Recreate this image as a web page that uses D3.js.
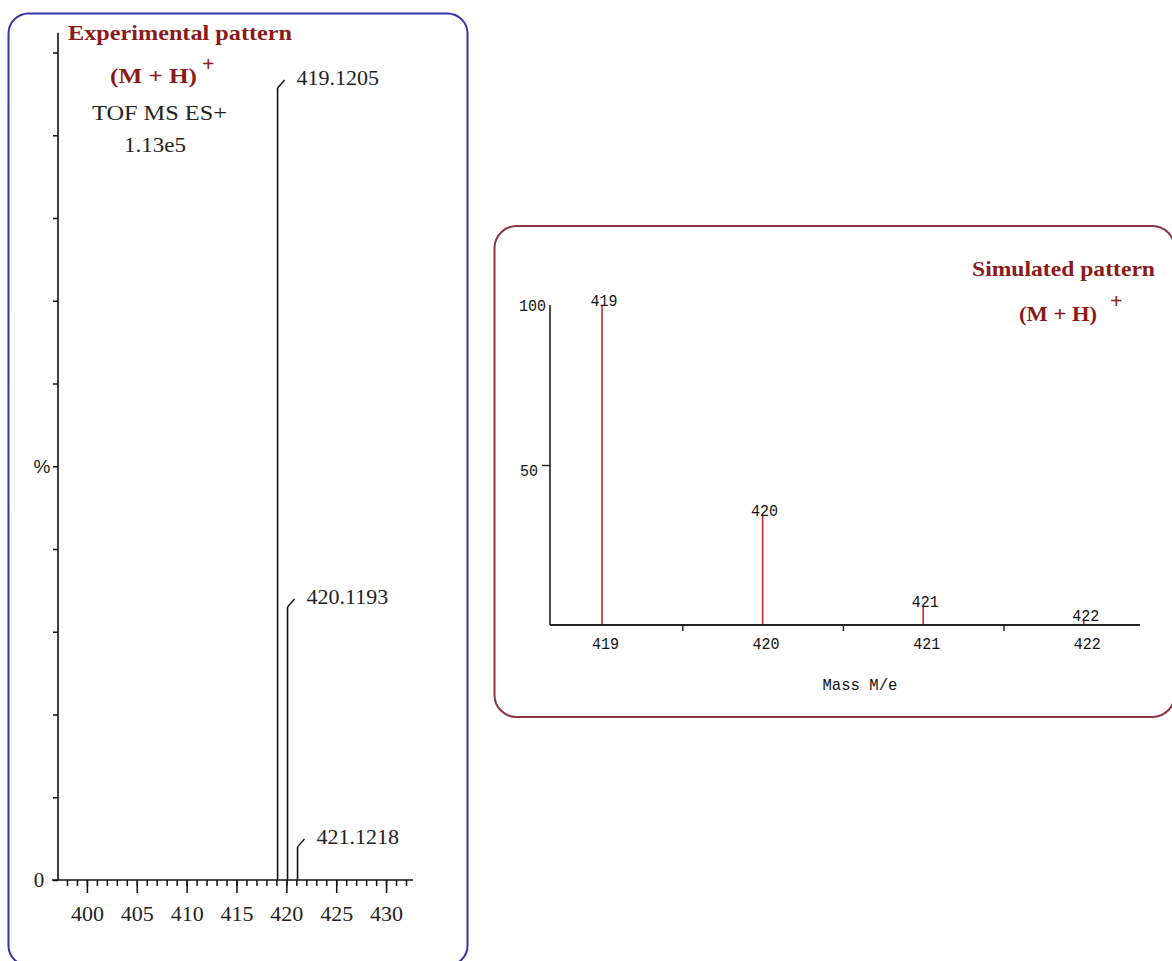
<!DOCTYPE html>
<html>
<head>
<meta charset="utf-8">
<script src="https://cdn.jsdelivr.net/npm/d3@7/dist/d3.min.js"></script>
<style>
  html, body { margin: 0; padding: 0; background: #ffffff; }
  svg { display: block; }
</style>
</head>
<body>
<svg id="chart" width="1172" height="961"></svg>
<script>
// ---------------- data ----------------
const expMz = [419.1205, 420.1193, 421.1218];
const expIntensity = [95.7, 33.0, 4.0];
const expLabels = ["419.1205", "420.1193", "421.1218"];
const expXTicks = [400, 405, 410, 415, 420, 425, 430];
const expXMinorTicks = d3.range(398, 433);
const expYTicks = d3.range(0, 101, 10);

const simMz = [419, 420, 421, 422];
const simIntensity = [100, 34.4, 5.9, 1.5];
const simLabels = ["419", "420", "421", "422"];
const simXTicks = [419, 420, 421, 422];
const simXHalfTicks = [419.5, 420.5, 421.5];
const simYTicks = [50, 100];

// ---------------- setup ----------------
const svg = d3.select("#chart");
const TITLE = "#8b1a1a";
const serif = "'Liberation Serif', 'Times New Roman', serif";
const mono = "'Liberation Mono', 'DejaVu Sans Mono', monospace";

// Panels
svg.append("rect").attr("x", 8.5).attr("y", 13.5).attr("width", 459).attr("height", 952)
  .attr("rx", 20).attr("ry", 20).attr("fill", "none").attr("stroke", "#3535a5").attr("stroke-width", 2);
svg.append("rect").attr("x", 494.5).attr("y", 226).attr("width", 680).attr("height", 491)
  .attr("rx", 22).attr("ry", 22).attr("fill", "none").attr("stroke", "#8b3545").attr("stroke-width", 2);

// ================= Left: experimental =================
const xL = d3.scaleLinear().domain([397.1, 432.7]).range([58, 413]);
const yL = d3.scaleLinear().domain([0, 100]).range([880, 52.5]);

const gL = svg.append("g");

// y axis line (extends slightly above 100%)
gL.append("line").attr("x1", xL(397.1)).attr("x2", xL(397.1))
  .attr("y1", yL(0)).attr("y2", yL(102.4)).attr("stroke", "#111").attr("stroke-width", 1.6);

// y ticks
const yAxisL = d3.axisLeft(yL).tickValues(expYTicks).tickSize(5).tickFormat("");
gL.append("g").attr("transform", `translate(${xL(397.1)},0)`).call(yAxisL)
  .call(g => g.select(".domain").remove())
  .call(g => g.selectAll(".tick line").attr("stroke", "#111").attr("stroke-width", 1.5));

// x minor ticks
const xMinorL = d3.axisBottom(xL).tickValues(expXMinorTicks).tickSize(6).tickSizeOuter(0).tickFormat("");
gL.append("g").attr("transform", `translate(0,${yL(0)})`).call(xMinorL)
  .call(g => g.select(".domain").remove())
  .call(g => g.selectAll(".tick line").attr("stroke", "#111").attr("stroke-width", 1.5));

// x major ticks with labels
const xMajorL = d3.axisBottom(xL).tickValues(expXTicks).tickSize(13).tickSizeOuter(0).tickPadding(12)
  .tickFormat(d3.format("d"));
gL.append("g").attr("transform", `translate(0,${yL(0)})`).call(xMajorL)
  .call(g => g.select(".domain").remove())
  .call(g => g.selectAll(".tick line").attr("stroke", "#111").attr("stroke-width", 1.5))
  .call(g => g.selectAll(".tick text").attr("font-family", serif).attr("font-size", 22).attr("fill", "#222"));

// x axis line
gL.append("line").attr("x1", xL(397.1) - 6).attr("x2", xL(432.7))
  .attr("y1", yL(0)).attr("y2", yL(0)).attr("stroke", "#111").attr("stroke-width", 1.6);

// y labels
gL.append("text").attr("x", 39).attr("y", yL(0)).attr("dy", "0.35em").attr("text-anchor", "middle")
  .attr("font-family", serif).attr("font-size", 21).attr("fill", "#222").text("0");
gL.append("text").attr("x", 42).attr("y", yL(50)).attr("dy", "0.35em").attr("text-anchor", "middle")
  .attr("font-family", "'Liberation Sans', Arial, sans-serif").attr("font-size", 19).attr("fill", "#222").text("%");

// peaks
const peaks = expMz.map((m, i) => ({ mz: m, v: expIntensity[i], label: expLabels[i] }));
gL.selectAll(".peak").data(peaks).enter().append("line").attr("class", "peak")
  .attr("x1", d => xL(d.mz)).attr("x2", d => xL(d.mz))
  .attr("y1", yL(0)).attr("y2", d => yL(d.v))
  .attr("stroke", "#111").attr("stroke-width", 1.6);
gL.selectAll(".conn").data(peaks).enter().append("line").attr("class", "conn")
  .attr("x1", d => xL(d.mz)).attr("x2", d => xL(d.mz) + 7)
  .attr("y1", d => yL(d.v)).attr("y2", d => yL(d.v) - 8)
  .attr("stroke", "#111").attr("stroke-width", 1.4);
gL.selectAll(".plabel").data(peaks).enter().append("text").attr("class", "plabel")
  .attr("x", d => xL(d.mz) + 19).attr("y", d => yL(d.v) - 3)
  .attr("font-family", serif).attr("font-size", 22).attr("fill", "#222").text(d => d.label);

// titles
gL.append("text").attr("x", 68).attr("y", 40).attr("font-family", serif).attr("font-weight", "bold")
  .attr("font-size", 22).attr("fill", TITLE).attr("textLength", 224).attr("lengthAdjust", "spacingAndGlyphs")
  .text("Experimental pattern");
gL.append("text").attr("x", 110).attr("y", 83).attr("font-family", serif).attr("font-weight", "bold")
  .attr("font-size", 22).attr("fill", TITLE).attr("textLength", 87).attr("lengthAdjust", "spacingAndGlyphs")
  .text("(M + H)");
gL.append("text").attr("x", 202).attr("y", 71).attr("font-family", serif).attr("font-weight", "bold")
  .attr("font-size", 22).attr("fill", TITLE).text("+");
gL.append("text").attr("x", 92).attr("y", 120).attr("font-family", serif)
  .attr("font-size", 22).attr("fill", "#222").attr("textLength", 135).attr("lengthAdjust", "spacingAndGlyphs")
  .text("TOF MS ES+");
gL.append("text").attr("x", 124).attr("y", 152).attr("font-family", serif)
  .attr("font-size", 22).attr("fill", "#222").attr("textLength", 62).attr("lengthAdjust", "spacingAndGlyphs")
  .text("1.13e5");

// ================= Right: simulated =================
const xR = d3.scaleLinear().domain([418.676, 422.35]).range([550, 1140]);
const yR = d3.scaleLinear().domain([0, 100]).range([625, 305]);
const gR = svg.append("g");

// bars
const sims = simMz.map((m, i) => ({ mz: m, v: simIntensity[i], label: simLabels[i] }));
gR.selectAll(".sbar").data(sims).enter().append("line").attr("class", "sbar")
  .attr("x1", d => xR(d.mz)).attr("x2", d => xR(d.mz))
  .attr("y1", yR(0)).attr("y2", d => yR(d.v))
  .attr("stroke", "#d02828").attr("stroke-width", 1.6);
gR.selectAll(".slabel").data(sims).enter().append("text").attr("class", "slabel")
  .attr("x", d => xR(d.mz) + 2).attr("y", d => yR(d.v) + 1)
  .attr("text-anchor", "middle").attr("font-family", mono).attr("font-size", 17)
  .attr("fill", "#111").attr("textLength", 27).attr("lengthAdjust", "spacingAndGlyphs").text(d => d.label);

// x axis: half ticks
const xHalfR = d3.axisBottom(xR).tickValues(simXHalfTicks).tickSize(6).tickSizeOuter(0).tickFormat("");
gR.append("g").attr("transform", `translate(0,${yR(0)})`).call(xHalfR)
  .call(g => g.select(".domain").remove())
  .call(g => g.selectAll(".tick line").attr("stroke", "#222").attr("stroke-width", 1.5));
// x axis labels (no tick marks)
const xLabR = d3.axisBottom(xR).tickValues(simXTicks).tickSize(0).tickPadding(12).tickFormat(d3.format("d"));
gR.append("g").attr("transform", `translate(3,${yR(0)})`).call(xLabR)
  .call(g => g.select(".domain").remove())
  .call(g => g.selectAll(".tick text").attr("font-family", mono).attr("font-size", 17).attr("fill", "#111")
    .attr("textLength", 27).attr("lengthAdjust", "spacingAndGlyphs"));
gR.append("line").attr("x1", xR.range()[0]).attr("x2", xR.range()[1])
  .attr("y1", yR(0)).attr("y2", yR(0)).attr("stroke", "#222").attr("stroke-width", 1.8);

// y axis
gR.append("line").attr("x1", xR.range()[0]).attr("x2", xR.range()[0])
  .attr("y1", yR(0)).attr("y2", yR(100)).attr("stroke", "#222").attr("stroke-width", 1.6);
const yAxisR = d3.axisLeft(yR).tickValues(simYTicks).tickSize(8).tickPadding(3).tickFormat(d3.format("d"));
gR.append("g").attr("transform", `translate(${xR.range()[0]},0)`).call(yAxisR)
  .call(g => g.select(".domain").remove())
  .call(g => g.selectAll(".tick line").attr("stroke", "#222").attr("stroke-width", 1.4)
    .attr("opacity", d => d === 100 ? 0 : 1))
  .call(g => g.selectAll(".tick text").attr("font-family", mono).attr("font-size", 17).attr("fill", "#111")
    .attr("x", d => d === 100 ? -4 : -12).attr("dy", d => d === 100 ? "0.32em" : "0.62em")
    .attr("textLength", d => d === 100 ? 27 : 18).attr("lengthAdjust", "spacingAndGlyphs"));

// axis title
gR.append("text").attr("x", 860).attr("y", 690).attr("text-anchor", "middle")
  .attr("font-family", mono).attr("font-size", 17).attr("fill", "#111")
  .attr("textLength", 75).attr("lengthAdjust", "spacingAndGlyphs").text("Mass M/e");

// titles
gR.append("text").attr("x", 972).attr("y", 276).attr("font-family", serif).attr("font-weight", "bold")
  .attr("font-size", 22).attr("fill", TITLE).attr("textLength", 183).attr("lengthAdjust", "spacingAndGlyphs")
  .text("Simulated pattern");
gR.append("text").attr("x", 1019).attr("y", 321).attr("font-family", serif).attr("font-weight", "bold")
  .attr("font-size", 22).attr("fill", TITLE).attr("textLength", 78).attr("lengthAdjust", "spacingAndGlyphs")
  .text("(M + H)");
gR.append("text").attr("x", 1110).attr("y", 308).attr("font-family", serif).attr("font-weight", "bold")
  .attr("font-size", 22).attr("fill", TITLE).text("+");
</script>
</body>
</html>
